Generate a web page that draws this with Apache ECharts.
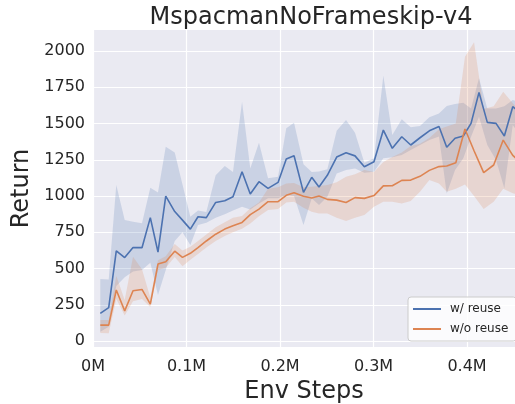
<!DOCTYPE html>
<html><head><meta charset="utf-8">
<script src="https://cdn.jsdelivr.net/npm/echarts@6/dist/echarts.min.js"></script>
<style>html,body{margin:0;padding:0;background:#fff}#c{width:515px;height:404px}</style>
</head><body><div id="c"></div>
<script>
// ---- data (env steps, returns) ----
const blueSteps = [7800, 16800, 24900, 33900, 42800, 52400, 61300, 69500, 77800, 87400, 95700, 104100, 112300, 121200, 131200, 140900, 149700, 159400, 168200, 177500, 187200, 197900, 206700, 215000, 225100, 233900, 241700, 250600, 260600, 270600, 280200, 290200, 300500, 310500, 320100, 330200, 339800, 349700, 359700, 370000, 378300, 387200, 396000, 404300, 412800, 421700, 431000, 439900, 448900, 458300];
const blueMean = [191, 230, 622, 576, 645, 644, 851, 614, 1000, 893, 834, 772, 857, 851, 956, 968, 995, 1168, 1014, 1099, 1053, 1094, 1255, 1278, 1025, 1129, 1062, 1143, 1269, 1299, 1277, 1202, 1236, 1455, 1329, 1409, 1352, 1402, 1450, 1480, 1336, 1398, 1414, 1501, 1715, 1508, 1501, 1414, 1616, 1570];
const blueHigh = [428, 425, 1076, 834, 823, 813, 1058, 1025, 1340, 1300, 1080, 857, 900, 890, 1143, 1207, 1165, 1650, 1190, 1368, 1122, 1133, 1467, 1506, 1220, 1165, 1170, 1185, 1450, 1524, 1436, 1230, 1260, 1830, 1421, 1529, 1474, 1483, 1543, 1570, 1621, 1634, 1643, 1604, 1812, 1604, 1604, 1620, 1662, 1640];
const blueLow = [64, 99, 380, 440, 480, 490, 540, 317, 490, 690, 750, 662, 800, 815, 850, 875, 900, 926, 908, 949, 984, 984, 1007, 1000, 800, 984, 938, 995, 1156, 1179, 1190, 1160, 1168, 1260, 1267, 1283, 1317, 1352, 1386, 1410, 1018, 1179, 1260, 1409, 1547, 1352, 1248, 1053, 1490, 1400];

const orangeSteps = [7800, 16800, 24900, 33900, 42800, 52400, 61300, 69500, 77800, 87400, 95700, 104100, 112300, 121200, 131200, 140900, 149700, 159400, 168200, 177500, 187200, 197900, 206700, 215000, 225100, 233900, 241700, 250600, 260600, 270600, 280200, 290200, 300500, 310500, 320100, 330200, 339800, 349700, 359700, 370000, 378300, 388000, 397800, 407500, 417800, 428500, 438700, 448900, 459500];
const orangeMean = [110, 110, 352, 208, 347, 356, 255, 531, 547, 620, 577, 605, 645, 690, 737, 772, 795, 818, 872, 910, 961, 961, 1005, 1023, 998, 987, 1000, 977, 972, 956, 989, 984, 1003, 1070, 1071, 1108, 1110, 1136, 1177, 1203, 1207, 1230, 1462, 1312, 1161, 1214, 1386, 1280, 1220];
const orangeHigh = [145, 145, 450, 283, 582, 495, 300, 557, 585, 669, 625, 650, 690, 735, 785, 820, 850, 862, 915, 955, 1050, 1060, 1087, 1090, 1060, 1064, 1070, 1076, 1095, 1133, 1150, 1179, 1165, 1235, 1270, 1300, 1345, 1360, 1400, 1460, 1480, 1500, 1960, 2060, 1600, 1620, 1720, 1640, 1560];
const orangeLow = [55, 53, 290, 176, 275, 290, 235, 490, 505, 580, 515, 560, 600, 645, 690, 725, 750, 775, 810, 860, 903, 910, 955, 961, 920, 892, 880, 880, 850, 828, 850, 869, 926, 960, 960, 949, 965, 1030, 1110, 1087, 1030, 1050, 1080, 1000, 910, 960, 1050, 1020, 1000];

const seriesNames = ['w/ reuse', 'w/o reuse'];
const yTicks = [0, 250, 500, 750, 1000, 1250, 1500, 1750, 2000];
const xTicks = [0, 100000, 200000, 300000, 400000];
const titleText = 'MspacmanNoFrameskip-v4';
const xName = 'Env Steps';
const yName = 'Return';

// ---- chart ----
const FONT = 'DejaVu Sans';
const TXT = '#262626';
const BLUE = '#4C72B0', ORANGE = '#DD8452';
function pairs(xs, ys) { return xs.map((x, i) => [x, ys[i]]); }
function triples(xs, lo, hi) { return xs.map((x, i) => [x, lo[i], hi[i]]); }

function bandSeries(name, xs, lo, hi, fill) {
  return {
    type: 'custom', name: name, silent: true, clip: true,
    data: triples(xs, lo, hi),
    encode: {x: 0, y: [1, 2]},
    renderItem: function (params, api) {
      if (params.dataIndex !== 0) return null;
      const pts = [];
      for (let i = 0; i < xs.length; i++) pts.push(api.coord([xs[i], hi[i]]));
      for (let i = xs.length - 1; i >= 0; i--) pts.push(api.coord([xs[i], lo[i]]));
      const cs = params.coordSys;
      return {
        type: 'polygon', shape: {points: pts}, style: {fill: fill},
        clipPath: {type: 'rect', shape: {x: cs.x, y: cs.y, width: cs.width, height: cs.height}}
      };
    }
  };
}

const chart = echarts.init(document.getElementById('c'), null, {renderer: 'canvas'});
chart.setOption({
  animation: false,
  backgroundColor: '#ffffff',
  title: {text: titleText, left: 306, top: 1, textAlign: 'center',
    textStyle: {fontFamily: FONT, fontSize: 24, fontWeight: 'normal', color: TXT}},
  grid: {left: 93, right: 0, top: 30, bottom: 57, show: true, backgroundColor: '#EAEAF2', borderWidth: 0,
    containLabel: false, outerBoundsMode: 'none'},
  legend: {data: seriesNames, orient: 'vertical', left: 408, top: 297, icon: 'rect',
    itemWidth: 28, itemHeight: 2, itemGap: 6, padding: [5, 8, 5, 5],
    backgroundColor: 'rgba(255,255,255,0.8)', borderColor: '#cccccc', borderWidth: 1, borderRadius: 3,
    textStyle: {fontFamily: FONT, fontSize: 12, color: TXT, padding: [0, 0, 0, 4], lineHeight: 14}},
  xAxis: {type: 'value', min: 0, max: 451300, interval: 100000,
    name: xName, nameLocation: 'middle', nameGap: 30,
    nameTextStyle: {fontFamily: FONT, fontSize: 24, color: TXT},
    axisLine: {show: false}, axisTick: {show: false, customValues: xTicks},
    axisLabel: {customValues: xTicks, margin: 12, fontFamily: FONT, fontSize: 16, color: TXT,
      formatter: v => v === 0 ? '0M' : (v / 1e6).toFixed(1) + 'M'},
    splitLine: {show: true, lineStyle: {color: '#ffffff', width: 1.2}}},
  yAxis: {type: 'value', min: -41, max: 2145,
    name: yName, nameLocation: 'middle', nameGap: 51,
    nameTextStyle: {fontFamily: FONT, fontSize: 24, color: TXT},
    axisLine: {show: false}, axisTick: {show: false, customValues: yTicks},
    axisLabel: {customValues: yTicks, margin: 8, fontFamily: FONT, fontSize: 16, color: TXT,
      formatter: v => String(v)},
    splitLine: {show: true, lineStyle: {color: '#ffffff', width: 1.2}}},
  series: [
    bandSeries('b_band', blueSteps, blueLow, blueHigh, 'rgba(76,114,176,0.2)'),
    {type: 'line', name: seriesNames[0], data: pairs(blueSteps, blueMean), symbol: 'none',
      lineStyle: {color: BLUE, width: 1.6}, itemStyle: {color: BLUE}},
    bandSeries('o_band', orangeSteps, orangeLow, orangeHigh, 'rgba(221,132,82,0.2)'),
    {type: 'line', name: seriesNames[1], data: pairs(orangeSteps, orangeMean), symbol: 'none',
      lineStyle: {color: ORANGE, width: 1.6}, itemStyle: {color: ORANGE}}
  ]
});
</script>
</body></html>
